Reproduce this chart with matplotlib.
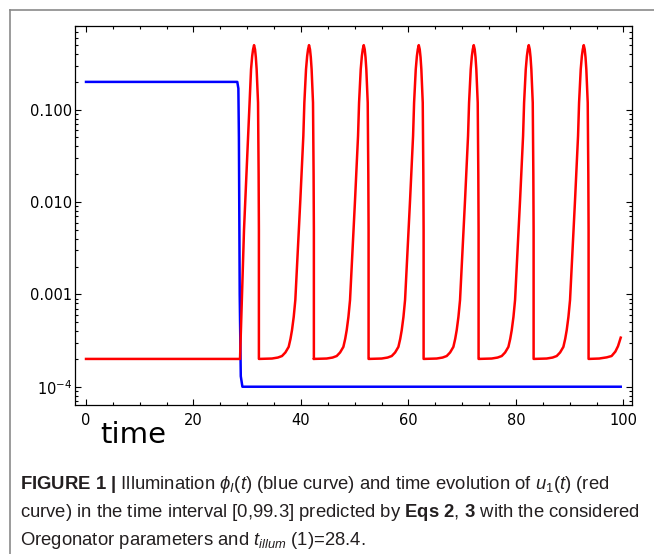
import numpy as np
import matplotlib.pyplot as plt
from matplotlib import font_manager
from matplotlib.lines import Line2D
from matplotlib.ticker import FixedLocator, FixedFormatter, LogLocator, NullFormatter, MultipleLocator

# blue curve: illumination phi_I(t)
BLUE_T = [0.0, 28.15, 28.35, 28.45, 28.6, 28.8, 29.1, 99.5]
BLUE_U = [0.2, 0.2, 0.17, 0.05, 1.0e-3, 1.3e-4, 1.0e-4, 1.0e-4]

# red curve: u1(t)
ONSET_T = [0.0, 28.66, 29.4]
ONSET_U = [2.0e-4, 2.0e-4, 5.0e-3]
PEAK_TIMES = [31.27, 41.50, 51.68, 61.92, 72.15, 82.39, 92.62]
# slow recovery + steep rise, time relative to the peak
RISE_DT = [-9.33, -6.9, -5.8, -5.03, -4.4, -3.79, -3.45, -3.17, -2.85, -2.55,
           -2.24, -1.93, -1.62, -1.06, -0.87]
RISE_U = [2.0e-4, 2.02e-4, 2.07e-4, 2.15e-4, 2.35e-4, 2.7e-4, 3.3e-4, 4.1e-4,
          5.7e-4, 8.7e-4, 2.0e-3, 4.6e-3, 1.05e-2, 5.2e-2, 0.119]
# rounded top and the sharp fall
TOP_DT = [-0.56, -0.35, -0.18, 0.0, 0.18, 0.33, 0.48, 0.62, 0.74, 0.80, 0.85, 0.9, 0.9]
TOP_U = [0.274, 0.38, 0.45, 0.5, 0.45, 0.37, 0.274, 0.18, 0.119, 0.052, 0.02, 0.005, 2.0e-4]
TAIL_T = [93.52, 95.5, 96.9, 97.8, 98.5, 99.0, 99.5]
TAIL_U = [2.0e-4, 2.02e-4, 2.08e-4, 2.15e-4, 2.4e-4, 2.75e-4, 3.4e-4]

XTICKS = [0, 20, 40, 60, 80, 100]
YTICKS = [1e-4, 1e-3, 1e-2, 1e-1]
YTICK_LABELS = [r'$\mathregular{10^{-4}}$', '0.001', '0.010', '0.100']

CAPTION = [
    r'$\mathbf{FIGURE\ 1\ |}$ Illumination $\mathit{\phi_I(t)}$ (blue curve) and time evolution of $\mathit{u}_1\mathit{(t)}$ (red',
    r'curve) in the time interval [0,99.3] predicted by $\mathbf{Eqs\ 2}$, $\mathbf{3}$ with the considered',
    r'Oregonator parameters and $\mathit{t}_{\mathit{illum}}$ (1)=28.4.',
]

# build red series from the pieces
red_t = list(ONSET_T)
red_u = list(ONSET_U)
for i, tp in enumerate(PEAK_TIMES):
    if i > 0:
        red_t += [tp + d for d in RISE_DT]
        red_u += RISE_U
    red_t += [tp + d for d in TOP_DT]
    red_u += TOP_U
red_t += TAIL_T
red_u += TAIL_U

installed = {f.name for f in font_manager.fontManager.ttflist}
cap_font = 'Liberation Sans Narrow' if 'Liberation Sans Narrow' in installed else 'Liberation Sans'

plt.rcParams['mathtext.fontset'] = 'custom'
plt.rcParams['mathtext.rm'] = cap_font
plt.rcParams['mathtext.it'] = cap_font + ':italic'
plt.rcParams['mathtext.bf'] = cap_font + ':bold'

fig = plt.figure(figsize=(6.54, 5.54), dpi=100)
ax = fig.add_axes([75 / 654, 1 - 405 / 554, 557 / 654, 379 / 554])

ax.plot(BLUE_T, BLUE_U, color='#0000ff', lw=1.8, solid_joinstyle='round')
ax.plot(red_t, red_u, color='#ff0000', lw=1.8, solid_joinstyle='round')

ax.set_yscale('log')
ax.set_xlim(-2.05, 101.6)
ax.set_ylim(6.34e-5, 0.806)

ax.xaxis.set_major_locator(FixedLocator(XTICKS))
ax.xaxis.set_minor_locator(MultipleLocator(5))
ax.yaxis.set_major_locator(FixedLocator(YTICKS))
ax.yaxis.set_major_formatter(FixedFormatter(YTICK_LABELS))
ax.yaxis.set_minor_locator(LogLocator(base=10, subs=np.arange(2, 10)))
ax.yaxis.set_minor_formatter(NullFormatter())

ax.tick_params(which='both', direction='in', top=True, right=True, width=0.8, colors='black')
ax.tick_params(which='major', length=4)
ax.tick_params(which='minor', length=2.5)
ax.tick_params(axis='x', labelsize=10.5, pad=6)
ax.tick_params(axis='y', labelsize=10.5, pad=2)
for lab in ax.get_xticklabels() + ax.get_yticklabels():
    lab.set_fontfamily('DejaVu Sans')
for sp in ax.spines.values():
    sp.set_linewidth(0.9)

fig.text(100 / 654, 1 - 443 / 554, 'time', fontsize=21, family='DejaVu Sans', va='baseline')

# figure frame (top and left edges visible)
fig.add_artist(Line2D([10 / 654, 10 / 654], [0, 1 - 10 / 554], color='#8a8a8a', lw=1.2))
fig.add_artist(Line2D([10 / 654, 1], [1 - 10 / 554, 1 - 10 / 554], color='#8a8a8a', lw=1.2))

for k, line in enumerate(CAPTION):
    fig.text(20 / 654, 1 - (489 + 28 * k) / 554, line, fontsize=13.3, family=cap_font,
             color='#231f20', va='baseline')

fig.savefig('out.png', dpi=100)
